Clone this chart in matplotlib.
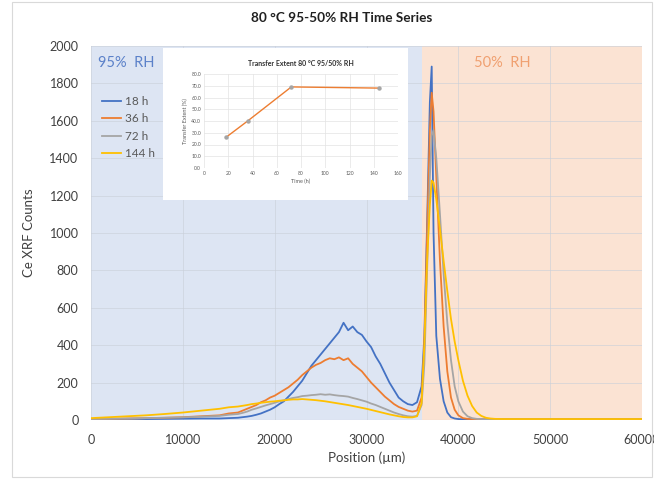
import matplotlib
matplotlib.use("Agg")
import matplotlib.pyplot as plt
from matplotlib.patches import Rectangle

# ---------------- data ----------------
position = [0, 2000, 4000, 6000, 8000, 10000, 12000, 14000, 15000,
            16000, 16500, 17000, 17500, 18000, 18500, 19000, 19500,
            20000, 20500, 21000, 21500, 22000, 22500, 23000, 23500,
            24000, 24500, 25000, 25500, 26000, 26500, 27000, 27500,
            28000, 28500, 29000, 29500, 30000, 30500, 31000, 31500,
            32000, 32500, 33000, 33500, 34000, 34500, 35000, 35500,
            36000, 36300, 36600, 36900, 37100, 37300, 37600, 38000, 38400,
            38800, 39200, 39600, 40000, 40500, 41000, 41500, 42000, 42500,
            43000, 43500, 44000, 45000, 50000, 55000, 60000]

counts_18h = [5, 4, 6, 5, 6, 7, 8, 8, 10,
              12, 15, 18, 22, 28, 35, 45, 55,
              68, 85, 100, 125, 150, 180, 210, 250,
              290, 320, 350, 380, 410, 440, 470, 520,
              480, 500, 470, 455, 420, 390, 340, 300,
              250, 200, 160, 120, 100, 85, 80, 95,
              180, 450, 1050, 1700, 1890, 1000, 450, 220, 100,
              40, 15, 8, 5, 4, 4, 3, 3, 3,
              3, 3, 3, 3, 3, 3, 3]

counts_36h = [5, 6, 8, 10, 12, 15, 20, 25, 35,
              40, 50, 60, 70, 80, 95, 105, 120,
              130, 145, 160, 175, 195, 215, 240, 260,
              280, 295, 305, 320, 330, 325, 335, 320,
              330, 300, 280, 260, 230, 200, 175, 150,
              125, 105, 85, 70, 60, 50, 45, 50,
              120, 400, 1000, 1550, 1750, 1650, 1300, 850, 500,
              260, 120, 55, 25, 10, 6, 5, 4, 4,
              4, 4, 4, 4, 4, 4, 4]

counts_72h = [5, 6, 8, 10, 12, 14, 18, 22, 28,
              32, 38, 45, 55, 62, 70, 78, 85,
              92, 100, 105, 112, 118, 122, 128, 130,
              133, 135, 138, 135, 137, 133, 130, 128,
              125, 118, 112, 105, 98, 88, 80, 70,
              60, 50, 40, 32, 25, 20, 18, 22,
              80, 300, 800, 1300, 1520, 1550, 1400, 1100, 780,
              520, 320, 180, 100, 45, 20, 10, 6, 5,
              4, 4, 4, 4, 4, 4, 4]

counts_144h = [10, 15, 20, 25, 32, 40, 50, 60, 68,
               72, 76, 80, 85, 88, 92, 95, 98,
               100, 103, 105, 108, 110, 110, 112, 110,
               108, 106, 103, 100, 96, 92, 88, 84,
               80, 75, 70, 65, 60, 54, 48, 42,
               36, 30, 25, 20, 16, 14, 14, 20,
               90, 400, 850, 1150, 1280, 1270, 1180, 1020, 850,
               690, 540, 420, 320, 210, 130, 75, 40, 22,
               12, 8, 6, 5, 5, 5, 5]

series_labels = ["18 h", "36 h", "72 h", "144 h"]
series_colors = ["#4472C4", "#ED7D31", "#A5A5A5", "#FFC000"]

inset_time = [18, 36, 72, 144]
inset_extent = [26, 40, 69, 68]

region_labels = ["95%  RH", "50%  RH"]
region_bounds = [0, 36000, 60000]

# ---------------- figure ----------------
plt.rcParams['font.family'] = ['Lato', 'DejaVu Sans']
fig = plt.figure(figsize=(6.54, 4.79), dpi=100)

# outer chart border
fig.patches.append(Rectangle((12 / 654, 0.004), 640 / 654, 0.992, transform=fig.transFigure,
                             fill=False, edgecolor="#d9d9d9", linewidth=0.8))

ax = fig.add_axes([91 / 654, 59 / 479, 551 / 654, 374 / 479])
ax.set_xlim(0, 60000)
ax.set_ylim(0, 2000)

ax.axvspan(region_bounds[0], region_bounds[1], color="#dde5f3", zorder=0.2, linewidth=0)
ax.axvspan(region_bounds[1], region_bounds[2], color="#fbe3d3", zorder=0.2, linewidth=0)

ax.set_xticks(range(0, 60001, 10000))
ax.set_yticks(range(0, 2001, 200))
ax.grid(True, color="#c9cfd9", linewidth=0.7, alpha=0.6, zorder=0.5)
ax.set_axisbelow(True)
for s in ax.spines.values():
    s.set_visible(False)
ax.axhline(0, color="#d0d0d0", linewidth=0.8, zorder=0.6)
ax.tick_params(length=0, labelsize=9, labelcolor="#404040")
ax.tick_params(axis="x", pad=10)
ax.tick_params(axis="y", pad=9)

all_series = [counts_18h, counts_36h, counts_72h, counts_144h]
for vals, lab, col in zip(all_series, series_labels, series_colors):
    ax.plot(position, vals, color=col, linewidth=1.3, label=lab, zorder=2)

ax.set_xlabel("Position (\u00b5m)", fontsize=9.5, color="#404040", labelpad=4)
ax.set_ylabel("Ce XRF Counts", fontsize=9.5, color="#404040", labelpad=10)

ax.text(0.012, 0.955, region_labels[0], transform=ax.transAxes, fontsize=10.5,
        color="#5b81c9", va="center", ha="left")
ax.text(0.695, 0.955, region_labels[1], transform=ax.transAxes, fontsize=10.5,
        color="#f0a070", va="center", ha="left")

leg = ax.legend(loc="upper left", bbox_to_anchor=(0.0, 0.895), frameon=False,
                fontsize=8.5, handlelength=1.6, handletextpad=0.4, labelspacing=0.55,
                labelcolor="#595959")

fig.text(0.522, 1 - 18 / 479, "80 \u00b0C 95-50% RH Time Series", ha="center", va="center",
         fontsize=9.8, fontweight="bold", color="#202020")

# inset white box
fig.patches.append(Rectangle((163 / 654, (479 - 200) / 479), 245 / 654, 152 / 479,
                             transform=fig.transFigure, facecolor="white",
                             edgecolor="none", zorder=5))

iax = fig.add_axes([204 / 654, (479 - 168) / 479, 194 / 654, 94 / 479], zorder=6)
iax.set_facecolor("white")
iax.plot(inset_time, inset_extent, color="#ED7D31", linewidth=1.0, marker="o",
         markersize=2.2, markerfacecolor="#A5A5A5", markeredgecolor="#A5A5A5")
iax.set_xlim(0, 160)
iax.set_ylim(0, 80)
iax.set_xticks(range(0, 161, 20))
iax.set_yticks(range(0, 81, 10))
iax.set_yticklabels([f"{v:.1f}" for v in range(0, 81, 10)])
iax.grid(True, color="#e3e3e3", linewidth=0.5)
for s in iax.spines.values():
    s.set_visible(False)
iax.axhline(0, color="#d0d0d0", linewidth=0.6)
iax.tick_params(length=0, labelsize=3.6, labelcolor="#595959", pad=2)
iax.set_xlabel("Time (h)", fontsize=4, color="#595959", labelpad=2)
iax.set_ylabel("Transfer Extent (%)", fontsize=4, color="#595959", labelpad=2)
iax.set_title("Transfer Extent 80 \u00b0C 95/50% RH", fontsize=5, fontweight="bold",
              color="#303030", pad=6)

fig.savefig("out.png", dpi=100)
